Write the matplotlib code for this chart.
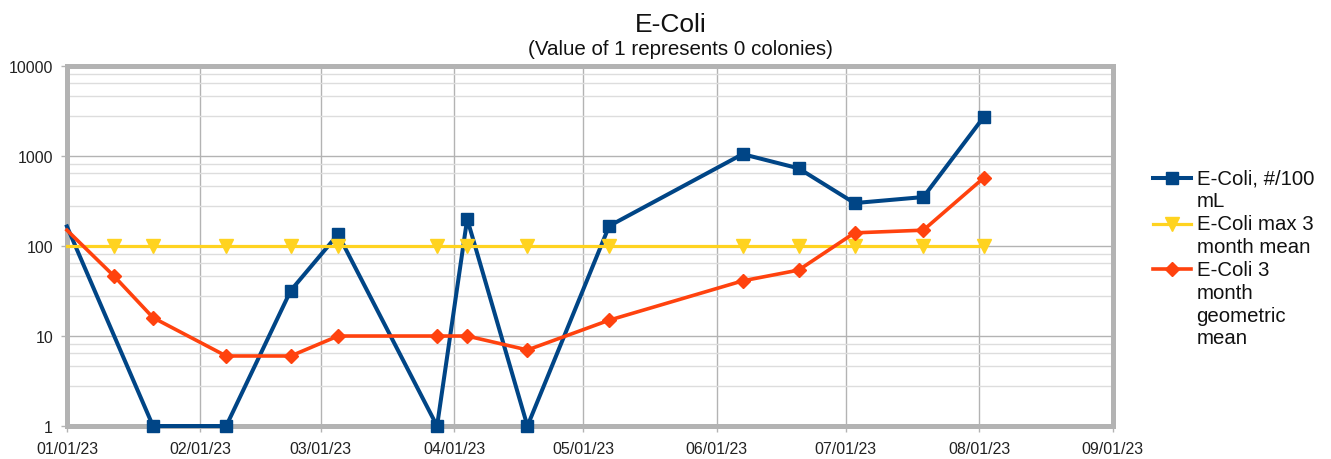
import numpy as np
import pandas as pd
import matplotlib
matplotlib.use("Agg")
from matplotlib import pyplot as plt
import matplotlib.dates as mdates
from matplotlib.ticker import FixedLocator, FuncFormatter
from matplotlib.legend_handler import HandlerLine2D

plt.rcParams['font.family'] = ['Liberation Sans', 'DejaVu Sans']

DATES = pd.to_datetime(["2023-01-01", "2023-01-12", "2023-01-21", "2023-02-07",
                        "2023-02-22", "2023-03-05", "2023-03-28", "2023-04-04",
                        "2023-04-18", "2023-05-07", "2023-06-07", "2023-06-20",
                        "2023-07-03", "2023-07-19", "2023-08-02"])

# no e-coli sample on 01/12
ECOLI = [165, np.nan, 1, 1, 32, 135, 1, 200, 1, 167, 1050, 730, 300, 350, 2700]
MAX_MEAN = [100] * 15
GEO_MEAN = [150, 46, 16, 6, 6, 10, 10, 10, 7, 15, 41, 54, 140, 150, 570]

LABELS = ["E-Coli, #/100\nmL", "E-Coli max 3\nmonth mean", "E-Coli 3\nmonth\ngeometric\nmean"]
BLUE = "#004586"
YELLOW = "#ffd320"
ORANGE = "#ff420e"
GRID = "#b3b3b3"
MINOR = "#dddddd"


class FirstLineHandler(HandlerLine2D):
    # put the legend symbol next to the first text line, like LibreOffice does
    def __init__(self, nlines, **kw):
        super().__init__(**kw)
        self.nlines = nlines

    def create_artists(self, legend, orig_handle, xdescent, ydescent, width, height, fontsize, trans):
        arts = super().create_artists(legend, orig_handle, xdescent, ydescent, width, height, fontsize, trans)
        shift = (self.nlines - 1) * 0.5 * 1.15 * fontsize
        for a in arts:
            a.set_ydata(np.asarray(a.get_ydata(), dtype=float) + shift)
        return arts


fig = plt.figure(figsize=(13.31, 4.6), dpi=100)
ax = fig.add_axes([0.0503, 0.0717, 0.7857, 0.7826])

s = pd.Series(ECOLI, index=DATES).dropna()
# first point sits on the frame without a symbol
l1, = ax.plot(s.index, s.values, color=BLUE, lw=2.9, marker='s', ms=8.6, zorder=3,
              markevery=slice(1, None), clip_on=False)
l2, = ax.plot(DATES, MAX_MEAN, color=YELLOW, lw=2.3, marker='v', ms=9.5, zorder=4,
              markevery=slice(1, None), clip_on=False)
l3, = ax.plot(DATES, GEO_MEAN, color=ORANGE, lw=2.6, marker='D', ms=7, zorder=5,
              markevery=slice(1, None), clip_on=False)

ax.set_yscale('log')
ax.set_ylim(1, 10000)
ax.set_xlim(pd.Timestamp("2023-01-01"), pd.Timestamp("2023-09-01"))

ax.yaxis.set_major_locator(FixedLocator([1, 10, 100, 1000, 10000]))
ax.yaxis.set_major_formatter(FuncFormatter(lambda v, p: "%d" % v))
minor = [d * (1 + 1.8 * k) for d in [1, 10, 100, 1000] for k in range(1, 5)]
ax.yaxis.set_minor_locator(FixedLocator(minor))
ax.yaxis.set_minor_formatter(FuncFormatter(lambda v, p: ""))

ax.xaxis.set_major_locator(mdates.MonthLocator())
ax.xaxis.set_major_formatter(mdates.DateFormatter("%m/%d/%y"))

ax.grid(True, which='major', color=GRID, lw=1.0)
ax.grid(True, which='minor', axis='y', color=MINOR, lw=1.0)
ax.set_axisbelow(True)

for sp in ax.spines.values():
    sp.set_color(GRID)
    sp.set_linewidth(3.6)
    sp.set_zorder(2.5)

ax.tick_params(axis='both', which='major', labelsize=11.5, color=GRID, length=4, width=1, pad=6,
               labelcolor='#222222')
ax.tick_params(axis='x', which='major', pad=7)
ax.tick_params(axis='y', which='minor', length=0)

fig.text(0.504, 0.930, "E-Coli", ha='center', va='baseline', fontsize=19, color='#111111')
fig.text(0.511, 0.8815, "(Value of 1 represents 0 colonies)", ha='center', va='baseline',
         fontsize=14.8, color='#111111')

handlers = {l1: FirstLineHandler(2), l2: FirstLineHandler(2), l3: FirstLineHandler(4)}
leg = fig.legend([l1, l2, l3], LABELS, loc='center left', bbox_to_anchor=(0.866, 0.437),
                 frameon=False, fontsize=14.7, handlelength=1.9, handletextpad=0.25,
                 labelspacing=0.2, borderpad=0, borderaxespad=0, handler_map=handlers)
for t in leg.get_texts():
    t.set_linespacing(1.25)
    t.set_color('#111111')

fig.savefig("out.png", dpi=100)
